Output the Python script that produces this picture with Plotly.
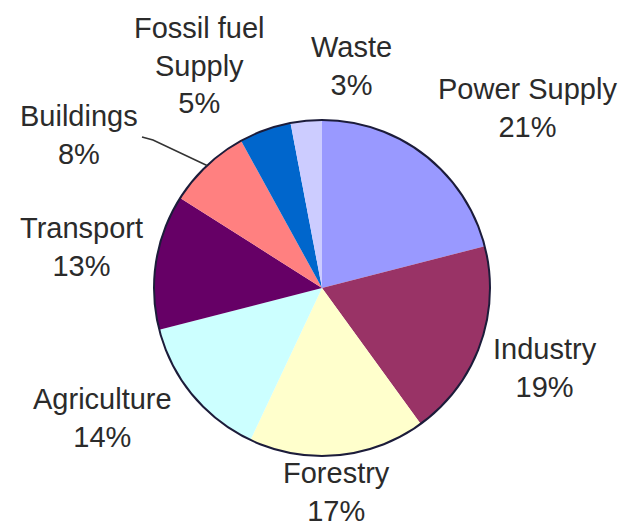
import math
import plotly.graph_objects as go

# ---- data ----
categories = ["Power Supply", "Industry", "Forestry", "Agriculture",
              "Transport", "Buildings", "Fossil fuel<br>Supply", "Waste"]
shares = [21, 19, 17, 14, 13, 8, 5, 3]

# ---- styling / layout (not data) ----
colors = ["#9999FF", "#993366", "#FFFFCC", "#CCFFFF",
          "#660066", "#FF8080", "#0066CC", "#CCCCFF"]
W, H = 622, 529
CX, CY, R = 322, 288, 168          # pie centre / radius in pixels (from top-left)
# label block centres in pixels (from top-left)
label_x = [527, 545, 336, 102, 81, 79, 199, 351]
label_y = [108, 368, 492, 418, 247, 135, 66, 66]

FONT = dict(family="Liberation Sans, Arial, sans-serif", size=29, color="#2b2b2b")

dom = dict(x=[(CX - R) / W, (CX + R) / W],
           y=[(H - CY - R) / H, (H - CY + R) / H])

fig = go.Figure()
fig.add_trace(go.Pie(
    labels=categories, values=shares, sort=False,
    direction="clockwise", rotation=0,
    marker=dict(colors=colors, line=dict(width=0)),
    textinfo="none", showlegend=False, domain=dom,
))
# outer rim of the pie
fig.add_trace(go.Pie(
    labels=["rim"], values=[1], sort=False,
    marker=dict(colors=["rgba(0,0,0,0)"], line=dict(color="#1c1c3a", width=2)),
    textinfo="none", hoverinfo="skip", showlegend=False, domain=dom,
))

annotations = []
for name, v, lx, ly in zip(categories, shares, label_x, label_y):
    annotations.append(dict(
        x=lx / W, y=1 - ly / H, xref="paper", yref="paper",
        text=f"{name}<br>{v}%", showarrow=False, font=FONT,
        xanchor="center", yanchor="middle", align="center", borderpad=0,
    ))

# leader line for Buildings: ends on the pie rim at the slice's mid-angle
total = sum(shares)
bi = categories.index("Buildings")
mid = (sum(shares[:bi]) + shares[bi] / 2) / total * 2 * math.pi
ex = CX + R * math.sin(mid)
ey = CY - R * math.cos(mid)
px = lambda x: x / W
py = lambda y: 1 - y / H
path = (f"M {px(142)},{py(137)} L {px(153)},{py(140)} "
        f"L {px(ex)},{py(ey)}")

fig.update_layout(
    width=W, height=H,
    margin=dict(l=0, r=0, t=0, b=0),
    paper_bgcolor="white", plot_bgcolor="white",
    annotations=annotations,
    shapes=[dict(type="path", path=path, xref="paper", yref="paper",
                 line=dict(color="#333333", width=1.5))],
)

fig.write_html("out.html",
               config={"displayModeBar": False},
               post_script="document.body.style.margin='0px';"
                           "document.body.style.padding='0px';")
